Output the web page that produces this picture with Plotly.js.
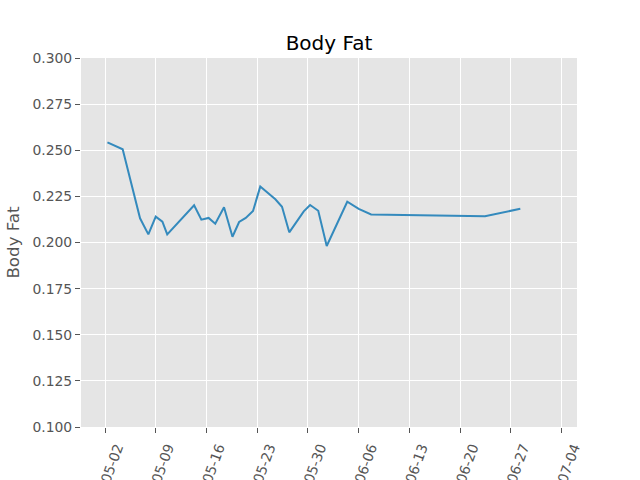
<!DOCTYPE html>
<html>
<head>
<meta charset="utf-8">
<script src="https://cdn.plot.ly/plotly-3.0.1.min.js"></script>
<style>html,body{margin:0;padding:0;background:#fff;}#chart{width:640px;height:480px;}</style>
</head>
<body>
<div id="chart"></div>
<script>
const dates = [
  "2018-05-02 08:00","2018-05-04 10:30","2018-05-06 20:00","2018-05-07 23:30","2018-05-09 00:00",
  "2018-05-09 22:00","2018-05-10 14:00","2018-05-14 07:00","2018-05-15 07:00","2018-05-16 07:00",
  "2018-05-17 05:00","2018-05-18 10:00","2018-05-19 14:00","2018-05-20 12:00","2018-05-21 10:00",
  "2018-05-22 10:00","2018-05-23 10:00","2018-05-25 12:00","2018-05-26 10:00","2018-05-27 10:00",
  "2018-05-29 10:00","2018-05-30 07:00","2018-05-31 10:00","2018-06-01 14:00","2018-06-04 10:00",
  "2018-06-06 00:00","2018-06-07 17:00","2018-06-23 10:00","2018-06-28 07:00"
];
const bodyFat = [
  0.2543,0.2505,0.2131,0.2044,0.2140,
  0.2113,0.2044,0.2202,0.2124,0.2133,
  0.2102,0.2191,0.2031,0.2111,0.2133,
  0.2171,0.2303,0.2234,0.2194,0.2055,
  0.2169,0.2203,0.2172,0.1981,0.2221,
  0.2182,0.2152,0.2142,0.2183
];
const titleText = "Body Fat";
const yTitle = "Body Fat";

const font = "DejaVu Sans, sans-serif";
Plotly.newPlot("chart", [{
  x: dates, y: bodyFat, type: "scatter", mode: "lines",
  line: {color: "#348ABD", width: 2}
}], {
  width: 640, height: 480,
  margin: {l: 81, r: 63, t: 58, b: 53, autoexpand: false},
  paper_bgcolor: "#ffffff", plot_bgcolor: "#E5E5E5",
  showlegend: false,
  title: {text: titleText, font: {family: font, size: 20, color: "#000"}, x: 0.514, xanchor: "center", y: 0.91, yanchor: "middle"},
  xaxis: {
    type: "date", range: ["2018-04-28 16:30", "2018-07-06 02:40"],
    tick0: "2018-05-02", dtick: 7*86400000, tickformat: "%Y-%m-%d",
    tickangle: -70, ticks: "outside", ticklen: 5, tickcolor: "#555555",
    ticklabelshift: 12, ticklabelstandoff: 1,
    tickfont: {family: font, size: 13.9, color: "#555555"},
    showgrid: true, gridcolor: "#ffffff", gridwidth: 1,
    zeroline: false, showline: false, automargin: false
  },
  yaxis: {
    range: [0.1, 0.3], tick0: 0.1, dtick: 0.025, tickformat: ".3f",
    ticks: "outside", ticklen: 5, tickcolor: "#555555",
    tickfont: {family: font, size: 13.9, color: "#555555"},
    showgrid: true, gridcolor: "#ffffff", gridwidth: 1,
    zeroline: false, showline: false, automargin: false,
    title: {text: yTitle, font: {family: font, size: 16.7, color: "#555555"}, standoff: 8}
  }
}, {displayModeBar: false, staticPlot: true});
</script>
</body>
</html>
